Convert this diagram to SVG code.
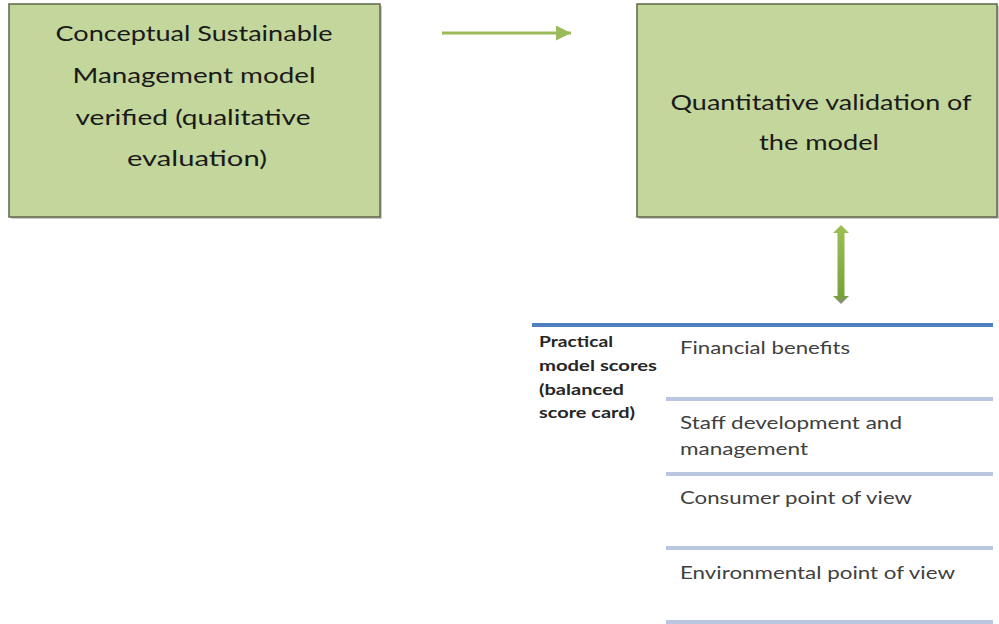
<svg xmlns="http://www.w3.org/2000/svg" width="999" height="624" viewBox="0 0 999 624">
<style>
.box{fill:#c3d69b;stroke:#5f6648;stroke-width:1.5}
.shadow{fill:#a6a6a6;opacity:0.6}
.t{font-family:Lato,"Noto Sans",sans-serif;font-size:22px;fill:#1a1a1a;text-anchor:middle}
.item{font-family:Lato,"Noto Sans",sans-serif;font-size:18px;fill:#404040}
.hd{font-family:Lato,"Noto Sans",sans-serif;font-size:15px;font-weight:bold;fill:#262626}
.sep{stroke:#b9c6df;stroke-width:4}
</style>
<defs>
<marker id="ah" viewBox="0 0 10 10" refX="10" refY="5" markerWidth="15" markerHeight="15" markerUnits="userSpaceOnUse" orient="auto">
<path d="M0,0 L10,5 L0,10 Z" fill="#9bbb59"/>
</marker>
<linearGradient id="dg" x1="0" y1="0" x2="0" y2="1">
<stop offset="0" stop-color="#9bc054"/>
<stop offset="0.9" stop-color="#7aa23a"/>
<stop offset="1" stop-color="#8a8a8a"/>
</linearGradient>
</defs>
<g id="node-conceptual">
<rect class="shadow" x="11" y="6" width="371" height="213"/>
<rect class="box" x="9" y="4" width="371" height="213"/>
<text class="t" x="194" y="41" textLength="277" lengthAdjust="spacingAndGlyphs">Conceptual Sustainable</text>
<text class="t" x="194" y="83" textLength="243" lengthAdjust="spacingAndGlyphs">Management model</text>
<text class="t" x="193" y="125" textLength="235" lengthAdjust="spacingAndGlyphs">verified (qualitative</text>
<text class="t" x="197" y="166" textLength="140" lengthAdjust="spacingAndGlyphs">evaluation)</text>
</g>
<g id="node-quantitative">
<rect class="shadow" x="639" y="6" width="362" height="213"/>
<rect class="box" x="637" y="4" width="360" height="213"/>
<text class="t" x="821" y="110" textLength="301" lengthAdjust="spacingAndGlyphs">Quantitative validation of</text>
<text class="t" x="819" y="150" textLength="120" lengthAdjust="spacingAndGlyphs">the model</text>
</g>
<g id="node-scorecard">
<line x1="532" y1="325" x2="993" y2="325" stroke="#4f81bd" stroke-width="4"/>
<text class="hd" x="539" y="347" textLength="74" lengthAdjust="spacingAndGlyphs">Practical</text>
<text class="hd" x="539" y="371" textLength="118" lengthAdjust="spacingAndGlyphs">model scores</text>
<text class="hd" x="539" y="395" textLength="85" lengthAdjust="spacingAndGlyphs">(balanced</text>
<text class="hd" x="539" y="418" textLength="96" lengthAdjust="spacingAndGlyphs">score card)</text>
<text class="item" x="680" y="354" textLength="170" lengthAdjust="spacingAndGlyphs">Financial benefits</text>
<line class="sep" x1="666" y1="399" x2="993" y2="399"/>
<text class="item" x="680" y="429" textLength="222" lengthAdjust="spacingAndGlyphs">Staff development and</text>
<text class="item" x="680" y="455" textLength="128" lengthAdjust="spacingAndGlyphs">management</text>
<line class="sep" x1="666" y1="474" x2="993" y2="474"/>
<text class="item" x="680" y="504" textLength="232" lengthAdjust="spacingAndGlyphs">Consumer point of view</text>
<line class="sep" x1="666" y1="548" x2="993" y2="548"/>
<text class="item" x="680" y="579" textLength="275" lengthAdjust="spacingAndGlyphs">Environmental point of view</text>
<line class="sep" x1="666" y1="622" x2="993" y2="622"/>
</g>
<g id="connectors">
<line x1="442" y1="33" x2="571" y2="33" stroke="#9bbb59" stroke-width="3" marker-end="url(#ah)"/>
<path d="M841,225 L849,233 L844.5,233 L844.5,296 L849,296 L841,304 L833,296 L837.5,296 L837.5,233 L833,233 Z" fill="url(#dg)"/>
</g>
</svg>
